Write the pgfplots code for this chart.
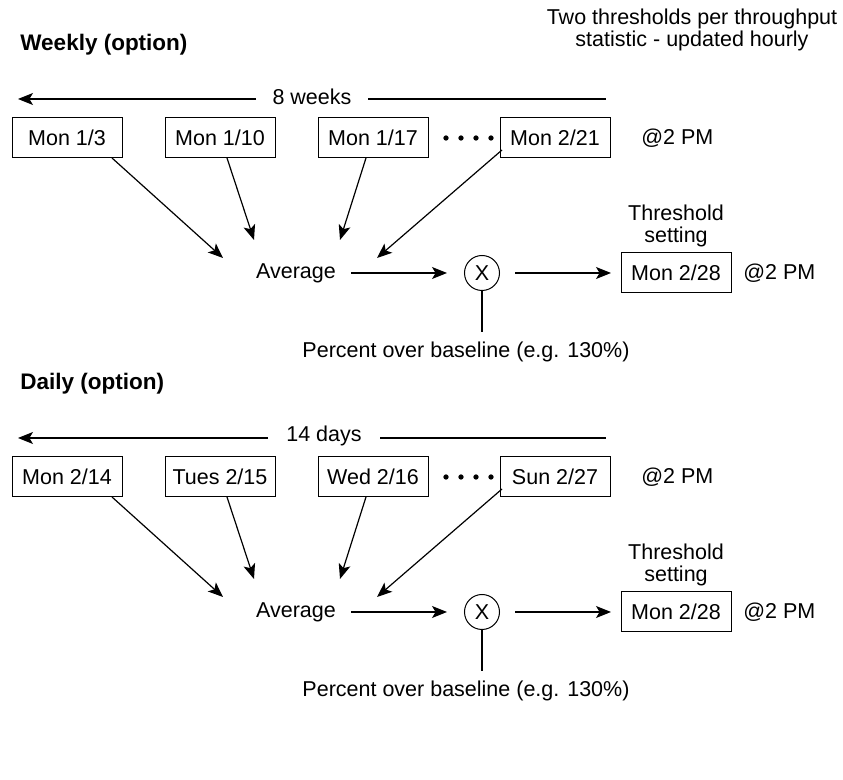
\documentclass[border=0pt]{standalone}
\usepackage{pgfplots}
\pgfplotsset{compat=1.18}
\usepackage{fontspec}
\setmainfont{Liberation Sans}
\usetikzlibrary{arrows.meta}
\begin{document}
\begin{tikzpicture}[
  every node/.style={font=\fontsize{10.75}{11}\selectfont, inner sep=0pt},
  bx/.style={draw, line width=0.5pt, minimum width=55pt, minimum height=20pt, inner sep=0pt},
  ar/.style={black, line width=0.6pt, -{Stealth[length=7.5pt,width=6pt,inset=1.8pt]}},
  ln/.style={black, line width=0.6pt}
]
\begin{axis}[
  hide axis, scale only axis, width=421.5pt, height=390pt,
  xmin=0, xmax=843, ymin=0, ymax=780, y dir=reverse, clip=false
]
% background to fix the frame
\addplot[draw=none, fill=white] coordinates {(0,0) (843,0) (843,780) (0,780) (0,0)};

% ---------------- Header ----------------
\node[align=center] at (axis cs:692,30) {Two thresholds per throughput\\statistic - updated hourly};

% ================= Block 1 (weekly) =================
\node[anchor=west, font=\fontsize{11.25}{12}\selectfont\bfseries] at (axis cs:20,45) {Weekly (option)};
\addplot[ar] coordinates {(256,99) (18,99)};
\addplot[ln] coordinates {(368,99) (606,99)};
\node at (axis cs:312,97) {8 weeks};
\node[bx] at (axis cs:67,138) {Mon 1/3};
\node[bx] at (axis cs:220,138) {Mon 1/10};
\node[bx] at (axis cs:373,138) {Mon 1/17};
\node[bx] at (axis cs:555,138) {Mon 2/21};
\addplot[only marks, mark=*, mark size=1.1pt, black] coordinates {(446,138) (461,138) (476,138) (491,138)};
\node[anchor=west] at (axis cs:641,138) {@2 PM};
\addplot[ar] coordinates {(112,158) (223,258)};
\addplot[ar] coordinates {(227,158) (254,240)};
\addplot[ar] coordinates {(366,158) (340,240)};
\addplot[ar] coordinates {(502,150) (377,258)};
\node at (axis cs:296,273) {Average};
\addplot[ar] coordinates {(351,273) (447,273)};
\node[draw, circle, line width=0.5pt, minimum size=17.5pt] at (axis cs:482,273) {X};
\addplot[ar] coordinates {(515,273) (611,273)};
\node[align=center] at (axis cs:676,226) {Threshold\\setting};
\node[bx] at (axis cs:676,273) {Mon 2/28};
\node[anchor=west] at (axis cs:743,273) {@2 PM};
\addplot[ln] coordinates {(482,291) (482,332)};
\node at (axis cs:466,352) {Percent over baseline (e.g. 130\%)};

% ================= Block 2 (daily) =================
\node[anchor=west, font=\fontsize{11.25}{12}\selectfont\bfseries] at (axis cs:20,384) {Daily (option)};
\addplot[ar] coordinates {(268,438) (18,438)};
\addplot[ln] coordinates {(380,438) (606,438)};
\node at (axis cs:324,436) {14 days};
\node[bx] at (axis cs:67,477) {Mon 2/14};
\node[bx] at (axis cs:220,477) {Tues 2/15};
\node[bx] at (axis cs:373,477) {Wed 2/16};
\node[bx] at (axis cs:555,477) {Sun 2/27};
\addplot[only marks, mark=*, mark size=1.1pt, black] coordinates {(446,477) (461,477) (476,477) (491,477)};
\node[anchor=west] at (axis cs:641,477) {@2 PM};
\addplot[ar] coordinates {(112,497) (223,597)};
\addplot[ar] coordinates {(227,497) (254,579)};
\addplot[ar] coordinates {(366,497) (340,579)};
\addplot[ar] coordinates {(502,489) (377,597)};
\node at (axis cs:296,612) {Average};
\addplot[ar] coordinates {(351,612) (447,612)};
\node[draw, circle, line width=0.5pt, minimum size=17.5pt] at (axis cs:482,612) {X};
\addplot[ar] coordinates {(515,612) (611,612)};
\node[align=center] at (axis cs:676,565) {Threshold\\setting};
\node[bx] at (axis cs:676,612) {Mon 2/28};
\node[anchor=west] at (axis cs:743,612) {@2 PM};
\addplot[ln] coordinates {(482,630) (482,671)};
\node at (axis cs:466,691) {Percent over baseline (e.g. 130\%)};
\end{axis}
\end{tikzpicture}
\end{document}
